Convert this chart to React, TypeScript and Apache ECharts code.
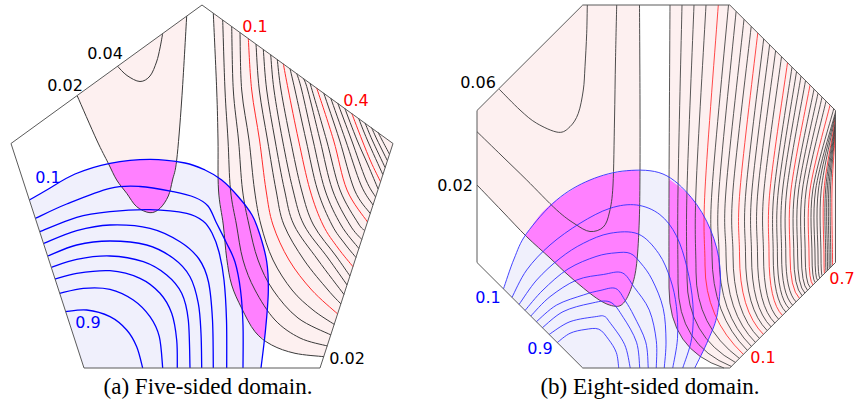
import React, { useEffect, useRef } from "react";
import * as echarts from "echarts";

type P = [number, number];

// ---------------- (a) five-sided domain ----------------
const pentagon: P[] = [[202, 5], [393, 143.5], [320, 368], [84, 368], [11, 143.5]];

const pentRightLevels = [0.02, 0.04, 0.06, 0.08, 0.1, 0.12, 0.14, 0.16, 0.18, 0.2, 0.22, 0.24, 0.26, 0.28, 0.3, 0.32, 0.34, 0.36, 0.38, 0.4, 0.42, 0.44, 0.46, 0.48];
const pentRightCurves: P[][] = [
  [[213.3, 13.2], [216.7, 90], [218, 140], [218.5, 190], [223.3, 225], [226.7, 258.3], [231.7, 285], [241.7, 308.3], [255, 331.7], [271.7, 345], [295, 353.3], [324, 356.7]],
  [[222.7, 20], [225, 90], [228, 140], [230.5, 190], [236.5, 225], [243, 260], [255, 290], [275, 320], [300, 338], [327.4, 346]],
  [[231.7, 26.5], [233.3, 90], [238.5, 140], [242.5, 190], [249, 225], [258, 260], [273, 290], [298, 318], [331, 335]],
  [[240, 32.5], [241.7, 90], [249, 140], [254.5, 190], [261, 225], [273, 260], [292, 290], [313, 310], [334.4, 324.5]],
  [[248.3, 38.5], [251.7, 90], [259.5, 140], [266, 190], [273, 225], [289, 260], [311.7, 290], [337.7, 314]],
  [[256, 44], [259.3, 90], [267.5, 140], [276, 190], [284, 225], [304, 260], [328, 290], [341, 304]],
  [[263.3, 49.3], [266.7, 90], [275, 140], [284.5, 190], [294, 225], [318, 260], [344, 294.5]],
  [[270.7, 54.6], [274, 90], [282.5, 140], [293, 190], [304, 225], [328, 258], [347.1, 285]],
  [[277.3, 59.4], [281, 90], [290.5, 140], [301.5, 190], [313.5, 225], [336, 256], [350, 276]],
  [[283.3, 63.7], [288.3, 90], [298.5, 140], [310, 190], [323, 225], [338, 248], [353, 266.7]],
  [[290, 68.6], [295, 90], [306, 140], [317.5, 190], [332, 225], [345, 244], [356, 257.5]],
  [[296.7, 73.4], [301.7, 90], [313, 140], [325, 190], [341, 225], [358.9, 248.5]],
  [[303.3, 78.2], [307.7, 90], [320, 140], [332.5, 190], [350, 225], [361.8, 239.5]],
  [[310, 83], [326.5, 140], [340, 190], [358, 223], [364.7, 230.5]],
  [[316.7, 87.9], [333.5, 140], [347, 190], [367.5, 222]],
  [[323.7, 92.9], [339.5, 140], [354.5, 190], [370.2, 213.5]],
  [[330.7, 98], [345.5, 140], [361, 185], [373, 205]],
  [[337.7, 103], [351.5, 140], [366, 180], [375.6, 197]],
  [[344.7, 108.1], [357, 140], [368, 165], [378.1, 189]],
  [[351.7, 113.2], [362, 140], [371, 162], [380.5, 181.7]],
  [[358.5, 118.1], [367.3, 140], [382.8, 174.5]],
  [[365, 122.8], [372.2, 140], [385.1, 167.5]],
  [[371.5, 127.5], [377.2, 140], [387.3, 160.5]],
  [[378, 132.2], [382, 140], [389.4, 154]],
];

const pentLeftLevels = [0.02, 0.04];
const pentLeftCurves: P[][] = [
  [[77.3, 96], [96.7, 140], [108.3, 163.3], [116.7, 180], [126.7, 193.3], [136.7, 206.7], [150, 212.7], [160, 208.3], [168.3, 196], [172.5, 180], [176.7, 160], [181.7, 100], [186.7, 16]],
  [[117.3, 66], [127, 75.5], [140, 81.5], [150, 76], [156.5, 62], [160, 48], [162.7, 33.4]],
];

const pentBlueLevels = [0.1, 0.2, 0.3, 0.4, 0.5, 0.6, 0.7, 0.8, 0.9];
const pentBlueCurves: P[][] = [
  [[29.5, 200], [46.7, 190], [75, 174], [110, 163.3], [150, 159.3], [185, 163], [205, 170], [221.7, 180], [238.3, 196.7], [252, 215], [260, 235], [266.7, 261.7], [268.3, 291.7], [265.5, 330], [261, 368]],
  [[35.4, 218.3], [66.7, 204], [110, 188.3], [140, 186.5], [173.3, 191.7], [195, 197.5], [208, 206], [216, 222], [226, 242], [235, 262], [240.5, 290], [243, 325], [243, 368]],
  [[40, 231.7], [76.7, 217.3], [110, 211.7], [150, 209.7], [186.7, 213.3], [203, 221], [212, 233], [219, 252], [224, 280], [226.5, 320], [226.7, 368]],
  [[44, 243.3], [76.7, 230.7], [110, 225], [150, 228.3], [180, 241.7], [199, 259], [208.5, 282], [212.5, 320], [213.3, 368]],
  [[48, 256], [76.7, 245], [110, 241], [146.7, 245], [173.3, 258.3], [190, 276.7], [198.3, 303.3], [201, 333.3], [201.7, 368]],
  [[51.5, 267.3], [76.7, 259.3], [110, 256], [143.3, 261.7], [166.7, 275], [181.7, 293.3], [188.3, 320], [190, 368]],
  [[55, 279], [76.7, 273.3], [110, 270.7], [140, 278.3], [160, 293.3], [171.7, 313.3], [176.7, 340], [177.3, 368]],
  [[59.8, 293.3], [83.3, 288.3], [110, 289.3], [133.3, 300], [150, 316.7], [159.3, 336.7], [162.7, 368]],
  [[65.7, 311.7], [86.7, 310], [110, 316.7], [126.7, 330], [136.7, 346.7], [142.7, 368]],
];

// overlap (magenta) boundaries, pentagon
const pentPocketBlue: P[] = [[108.3, 163.3], [130, 160.3], [150, 159.3], [176.5, 162]];
const pentPocketBlack: P[] = [[176.5, 162], [172.5, 180], [168.3, 196], [160, 208.3], [150, 212.7], [136.7, 206.7], [126.7, 193.3], [116.7, 180], [108.3, 163.3]];
const pentStripBlack: P[] = [[218.3, 178], [218.5, 190], [223.3, 225], [226.7, 258.3], [231.7, 285], [241.7, 308.3], [255, 331.7], [264.3, 339]];
const pentStripBlue: P[] = [[264.3, 339], [265.5, 330], [268.3, 291.7], [266.7, 261.7], [260, 235], [252, 215], [238.3, 196.7], [221.7, 180], [218.3, 178]];

// ---------------- (b) eight-sided domain ----------------
const octagon: P[] = [[582.75, 5], [729.75, 5], [835.5, 110.5], [835.5, 262.5], [729.75, 368], [582.75, 368], [477, 262.5], [477, 110.5]];

const octRightLevels = [0.02, 0.04, 0.06, 0.08, 0.1, 0.12, 0.14, 0.16, 0.18, 0.2, 0.22, 0.24, 0.26, 0.28, 0.3, 0.32, 0.34, 0.36, 0.38, 0.4, 0.42, 0.44, 0.46, 0.48, 0.5, 0.52, 0.54, 0.56, 0.58, 0.6, 0.62, 0.64, 0.66, 0.68, 0.7];
const octRightStart: P[] = [[670, 5], [682, 5], [694, 5], [706, 5], [718.3, 5], [728.5, 5], [736.1, 11.4], [744, 19.3], [751.2, 26.5], [757.75, 33], [763.7, 38.9], [769.6, 44.9], [775.6, 50.8], [781.5, 56.8], [787.5, 62.7], [792, 67.2], [796.5, 71.7], [801, 76.2], [805.5, 80.7], [810, 85.2], [814, 89.2], [818, 93.2], [822, 97.2], [826, 101.2], [830, 105.2], [833.75, 108.75], [835.5, 112], [835.5, 114], [835.5, 116.5], [835.5, 119], [835.5, 121.5], [835.5, 124], [835.5, 126.5], [835.5, 129], [835.5, 131.5]];
const octRightX190 = [669, 678, 687, 696, 705, 712, 719, 726, 733, 740, 746, 752, 758, 764, 770, 774.2, 778.4, 782.6, 786.8, 791, 794.8, 798.6, 802.4, 806.2, 810, 812.8, 815.6, 818.4, 821.2, 824, 825.6, 827.2, 828.8, 830.4, 832];
const octRightKnee: P[] = [[669, 288], [678, 283], [687, 278], [696, 272], [705, 265], [712, 255], [719, 255], [726, 255], [733, 255], [739.5, 255], [745.5, 255], [751.5, 255], [757.5, 255], [763.5, 255], [769, 255], [773.2, 255], [777.4, 255], [781.6, 255], [785.8, 255], [790, 255], [793.8, 255], [797.6, 255], [801.4, 255], [805.2, 255], [809, 255], [812, 255], [815, 255], [818, 255], [821, 255], [824, 255], [825.7, 255], [827.4, 255], [829.1, 255], [830.8, 255], [832.5, 255]];
const octRightBend: P[] = [[669, 350], [678, 345], [687, 336], [696, 326], [705, 318], [712, 315], [719, 314], [726, 313], [733, 312], [739.5, 310.5], [745.5, 308.9], [751.5, 307.3], [757.5, 305.7], [763.5, 304.1], [769, 302], [773.2, 299.4], [777.4, 296.8], [781.6, 294.2], [785.8, 291.6], [790, 289], [793.8, 287.4], [797.6, 285.8], [801.4, 284.2], [805.2, 282.6], [809, 281], [812, 279.4], [815, 277.8], [818, 276.2], [821, 274.6], [824, 273], [825.7, 271.3], [827.4, 269.6], [829.1, 267.9], [830.8, 266.2], [832.5, 264.5]];
const octRightEnd: P[] = [[724, 368], [731.5, 366.5], [735.5, 362.5], [739.5, 358.5], [743.5, 354.5], [747.5, 350.5], [751.5, 346.5], [755.5, 342.5], [759.5, 338.5], [763.5, 334.5], [767.3, 330.7], [771.1, 326.9], [774.9, 323.1], [778.7, 319.3], [782.5, 315.5], [785.9, 312.1], [789.3, 308.7], [792.7, 305.3], [796.1, 301.9], [799.5, 298.5], [802.2, 295.8], [804.9, 293.1], [807.6, 290.4], [810.3, 287.7], [813, 285], [815.3, 282.7], [817.6, 280.4], [819.9, 278.1], [822.2, 275.8], [824.5, 273.5], [826.1, 271.9], [827.7, 270.3], [829.3, 268.7], [830.9, 267.1], [832.5, 265.5]];

const octLeftLevels = [0.02, 0.04, 0.06];
const octLeftCurves: P[][] = [
  [[477, 185], [502, 211], [526.7, 236.7], [550, 258], [570, 276.7], [596.7, 298.3], [613.3, 306], [623.3, 303.3], [631.7, 286.7], [636.7, 263.3], [639.3, 220], [640, 170], [640, 100], [639.5, 5]],
  [[477, 131.7], [502, 156], [526.7, 180], [556.7, 210], [575, 224], [590, 231.5], [603.3, 227], [609.5, 212], [613, 185], [614.5, 120], [615.5, 60], [616.7, 5]],
  [[499.3, 89.3], [520, 110], [536.7, 123.3], [558.3, 132.3], [570, 126.7], [578.3, 113.3], [583.3, 90], [585, 66.7], [586.7, 33.3], [587.3, 5]],
];

const octBlueLevels = [0.1, 0.2, 0.3, 0.4, 0.5, 0.6, 0.7, 0.8, 0.9];
const octBlueCurves: P[][] = [
  [[503.5, 288.8], [514, 259], [526.7, 233.3], [556.7, 200], [590, 180], [626.7, 170.7], [663, 174], [691.2, 197.4], [710.6, 229.9], [720, 267.6], [717.6, 312.4], [708.4, 339.5], [694.75, 368]],
  [[512, 297.3], [526.7, 270], [550, 245], [580, 223.3], [610, 208.3], [636.7, 205], [659.9, 214.6], [676.4, 235.8], [687, 267.6], [692.9, 304.2], [691.7, 338.3], [682.75, 368]],
  [[519.1, 304.4], [536.7, 280], [560, 258.3], [583.3, 243.3], [610, 233.3], [638.2, 234], [658.7, 253.5], [670.5, 279.4], [676.4, 306.5], [677.5, 338.3], [672.75, 368]],
  [[525.1, 310.4], [543, 290], [568, 269], [596, 256.5], [616, 252.8], [630.2, 253.4], [640.7, 263], [652.2, 279.8], [663.2, 308.4], [666, 341], [664.25, 368]],
  [[530.8, 316], [550, 296.7], [576.7, 280], [603.3, 274.5], [622.2, 272.8], [634.3, 287.4], [649.3, 310.1], [656.3, 340.7], [656.25, 368]],
  [[536.4, 321.7], [556.7, 305], [583.3, 295], [600, 290.5], [615.7, 288.5], [625.4, 301], [634, 316], [645.7, 341.9], [648.25, 368]],
  [[542.4, 327.7], [563, 311.7], [590, 303.5], [610, 302], [623.2, 317.3], [636.5, 342.2], [639.75, 368]],
  [[549.2, 334.4], [570, 321.7], [596.7, 316.5], [604.2, 316.3], [609.3, 321.7], [624.5, 344.3], [630.25, 368]],
  [[557.3, 342.5], [570, 333.3], [585, 329.5], [598.8, 329.2], [608.4, 339.2], [616.3, 352.5], [618.75, 368]],
];

// overlap (magenta) boundaries, octagon
const octPocketBlue: P[] = [[525.5, 236], [540, 215], [556.7, 200], [590, 180], [626.7, 170.7], [640, 171]];
const octPocketBlack: P[] = [[640, 171], [639.3, 220], [636.7, 263.3], [631.7, 286.7], [623.3, 303.3], [613.3, 306], [596.7, 298.3], [570, 276.7], [550, 258], [525.5, 236]];
const octStripBlack: P[] = [[669, 179], [669, 230], [669, 288], [670.2, 305.6], [674, 321.2], [682.75, 339], [692.2, 350], [700.5, 357]];
const octStripBlue: P[] = [[700.5, 357], [708.4, 339.5], [717.6, 312.4], [720, 267.6], [710.6, 229.9], [691.2, 197.4], [669, 179]];

// labels
const labelTexts = ["0.04", "0.02", "0.1", "0.4", "0.1", "0.9", "0.02", "0.06", "0.02", "0.1", "0.9", "0.1", "0.7"];
const labelAnchors: P[] = [[105, 53], [65, 85], [255, 26], [356, 100], [48, 177], [88, 322], [347, 358], [478, 82], [455, 185], [488, 297], [540, 348], [763, 357], [842, 278]];
const labelKinds = ["k", "k", "r", "r", "b", "b", "k", "k", "k", "b", "b", "r", "r"];
const captionTexts = ["(a) Five-sided domain.", "(b) Eight-sided domain."];
const captionAnchors: P[] = [[208, 386], [650, 386]];

// ---------------- styles ----------------
const PINK = "#fdf0f0";
const LBLUE = "#f0f0fc";
const MAG = "#ff80ff";
const BLACK = "#3a3a3a";
const RED = "#ff2b2b";
const BLUE = "#0000ff";
const BLUE2 = "#3030ff";
const EDGE = "#5a5a5a";
const kindColor: Record<string, string> = { k: "#000000", r: "#ff0000", b: "#0000ff" };

interface Seg { pts: P[]; smooth: boolean; bend?: [P, P] }
interface Shape { segs: Seg[]; closed: boolean; fill?: string; stroke?: string; width?: number }

const isTenth = (v: number) => Math.abs(v * 10 - Math.round(v * 10)) < 1e-6;

const octRightSeg = (i: number): Seg => ({
  pts: [octRightStart[i], [octRightX190[i], 190], octRightKnee[i]],
  smooth: true,
  bend: [octRightBend[i], octRightEnd[i]],
});

const fillShapes: Shape[] = [
  { segs: [{ pts: pentRightCurves[0], smooth: true }, { pts: [pentagon[1]], smooth: false }], closed: true, fill: PINK },
  { segs: [{ pts: pentLeftCurves[0], smooth: true }], closed: true, fill: PINK },
  { segs: [{ pts: pentBlueCurves[0], smooth: true }, { pts: [pentagon[3]], smooth: false }], closed: true, fill: LBLUE },
  { segs: [{ pts: pentPocketBlue, smooth: true }, { pts: pentPocketBlack, smooth: true }], closed: true, fill: MAG },
  { segs: [{ pts: pentStripBlack, smooth: true }, { pts: pentStripBlue, smooth: true }], closed: true, fill: MAG },
  { segs: [octRightSeg(0), { pts: [octagon[4], octagon[3], octagon[2], octagon[1]], smooth: false }], closed: true, fill: PINK },
  { segs: [{ pts: octLeftCurves[0], smooth: true }, { pts: [octagon[0], octagon[7]], smooth: false }], closed: true, fill: PINK },
  { segs: [{ pts: octBlueCurves[0], smooth: true }, { pts: [octagon[5]], smooth: false }], closed: true, fill: LBLUE },
  { segs: [{ pts: octPocketBlue, smooth: true }, { pts: octPocketBlack, smooth: true }], closed: true, fill: MAG },
  { segs: [{ pts: octStripBlack, smooth: true }, { pts: octStripBlue, smooth: true }], closed: true, fill: MAG },
];

const lineShapes: Shape[] = [];
pentRightCurves.forEach((c, i) =>
  lineShapes.push({ segs: [{ pts: c, smooth: true }], closed: false, stroke: isTenth(pentRightLevels[i]) ? RED : BLACK, width: 1 })
);
pentLeftCurves.forEach((c, i) =>
  lineShapes.push({ segs: [{ pts: c, smooth: true }], closed: false, stroke: isTenth(pentLeftLevels[i]) ? RED : BLACK, width: 1 })
);
pentBlueCurves.forEach((c) => lineShapes.push({ segs: [{ pts: c, smooth: true }], closed: false, stroke: BLUE, width: 1.3 }));
octRightLevels.forEach((v, i) =>
  lineShapes.push({ segs: [octRightSeg(i)], closed: false, stroke: isTenth(v) ? RED : BLACK, width: 0.85 })
);
octLeftCurves.forEach((c, i) =>
  lineShapes.push({ segs: [{ pts: c, smooth: true }], closed: false, stroke: isTenth(octLeftLevels[i]) ? RED : BLACK, width: 0.9 })
);
octBlueCurves.forEach((c) => lineShapes.push({ segs: [{ pts: c, smooth: true }], closed: false, stroke: BLUE2, width: 0.9 }));

const outlineShapes: Shape[] = [
  { segs: [{ pts: pentagon, smooth: false }], closed: true, stroke: EDGE, width: 1 },
  { segs: [{ pts: octagon, smooth: false }], closed: true, stroke: EDGE, width: 1 },
];

const fmt = (p: number[]) => `${p[0].toFixed(2)} ${p[1].toFixed(2)}`;

function buildPath(segs: Seg[], closed: boolean, coord: (p: P) => number[]): string {
  let d = "";
  segs.forEach((seg, si) => {
    const pts = seg.pts.map(coord);
    const ctrl = seg.bend ? coord(seg.bend[0]) : null;
    const end = seg.bend ? coord(seg.bend[1]) : null;
    d += (si === 0 ? "M" : "L") + fmt(pts[0]);
    if (seg.smooth) {
      for (let i = 0; i < pts.length - 1; i++) {
        const p0 = i > 0 ? pts[i - 1] : pts[i];
        const p1 = pts[i];
        const p2 = pts[i + 1];
        const p3 = i + 2 < pts.length ? pts[i + 2] : ctrl ? ctrl : p2;
        const c1 = [p1[0] + (p2[0] - p0[0]) / 6, p1[1] + (p2[1] - p0[1]) / 6];
        const c2 = [p2[0] - (p3[0] - p1[0]) / 6, p2[1] - (p3[1] - p1[1]) / 6];
        d += "C" + fmt(c1) + " " + fmt(c2) + " " + fmt(p2);
      }
    } else {
      for (let i = 1; i < pts.length; i++) d += "L" + fmt(pts[i]);
    }
    if (ctrl && end) d += "Q" + fmt(ctrl) + " " + fmt(end);
  });
  if (closed) d += "Z";
  return d;
}

function shapeSeries(shapes: Shape[], z: number) {
  return {
    type: "custom",
    z,
    silent: true,
    clip: false,
    data: shapes.map((_, i) => [i, 0]),
    renderItem: (params: any, api: any) => {
      const s = shapes[params.dataIndex];
      const coord = (p: P) => api.coord(p);
      return {
        type: "path",
        shape: { pathData: buildPath(s.segs, s.closed, coord) },
        style: {
          fill: s.fill || "none",
          stroke: s.stroke || "none",
          lineWidth: s.width || 0,
        },
      };
    },
  };
}

const allTexts = [
  ...labelTexts.map((t, i) => ({ text: t, at: labelAnchors[i], color: kindColor[labelKinds[i]], font: '16px "DejaVu Sans"' })),
  ...captionTexts.map((t, i) => ({ text: t, at: captionAnchors[i], color: "#000000", font: '23px "Liberation Serif"' })),
];

const textSeries = {
  type: "custom",
  z: 10,
  silent: true,
  clip: false,
  data: allTexts.map((_, i) => [i, 0]),
  renderItem: (params: any, api: any) => {
    const t = allTexts[params.dataIndex];
    const c = api.coord(t.at);
    return {
      type: "text",
      x: c[0],
      y: c[1],
      style: {
        text: t.text,
        fill: t.color,
        font: t.font,
        textAlign: "center",
        textVerticalAlign: "middle",
      },
    };
  },
};

const option: any = {
  animation: false,
  backgroundColor: "#ffffff",
  grid: { left: 0, right: 0, top: 0, bottom: 0 },
  xAxis: { type: "value", min: 0, max: 855, show: false },
  yAxis: { type: "value", min: 0, max: 408, inverse: true, show: false },
  series: [shapeSeries(fillShapes, 1), shapeSeries(lineShapes, 2), shapeSeries(outlineShapes, 3), textSeries],
};

export default function App() {
  const ref = useRef<HTMLDivElement>(null);
  useEffect(() => {
    if (!ref.current) return;
    const chart = echarts.init(ref.current, undefined, { renderer: "svg" });
    chart.setOption(option);
    return () => chart.dispose();
  }, []);
  return (
    <div
      ref={ref}
      style={{ position: "fixed", left: 0, top: 0, width: 855, height: 408, background: "#ffffff" }}
    />
  );
}
